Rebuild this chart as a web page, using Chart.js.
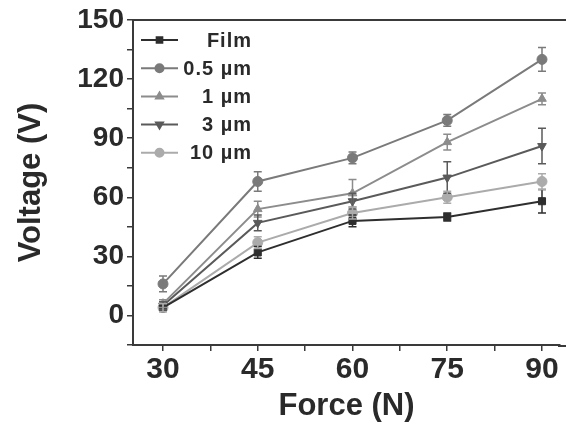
<!DOCTYPE html>
<html>
<head>
<meta charset="utf-8">
<script src="https://cdn.jsdelivr.net/npm/chart.js@4.4.1/dist/chart.umd.min.js"></script>
<style>
  html, body { margin: 0; padding: 0; background: #fff; overflow: hidden; }
  #wrap { width: 566px; height: 429px; }
</style>
</head>
<body>
<div id="wrap"><canvas id="chart" width="566" height="429"></canvas></div>
<script>
const forces = [30, 45, 60, 75, 90];
const labels = ["Film", "0.5 µm", "1 µm", "3 µm", "10 µm"];

const film = [4, 32, 48, 50, 58];
const um05 = [16, 68, 80, 99, 130];
const um1 = [6, 54, 62, 88, 110];
const um3 = [5, 47, 58, 70, 86];
const um10 = [4, 37, 52, 60, 68];

const filmErr = [2, 3, 3, 2, 6];
const um05Err = [4, 5, 3, 3, 6];
const um1Err = [2, 4, 7, 4, 3];
const um3Err = [2, 4, 4, 8, 9];
const um10Err = [2, 3, 3, 3, 4];

const yTicks = [0, 30, 60, 90, 120, 150];
const xTicks = [30, 45, 60, 75, 90];

const axisColor = "#3a3a3a";
const font = "'Liberation Sans', Arial, sans-serif";

function series(i, vals, errs, color, style, rot) {
  return {
    label: labels[i],
    data: forces.map((f, k) => ({ x: f, y: vals[k] })),
    errors: errs,
    borderColor: color,
    backgroundColor: color,
    borderWidth: 2,
    pointStyle: style,
    pointRotation: rot || 0,
    pointRadius: 5,
    pointBorderWidth: 1,
    tension: 0
  };
}

// error bars + frame + legend
const extras = {
  id: "extras",
  afterDatasetsDraw(chart) {
    const ctx = chart.ctx;
    const xs = chart.scales.x, ys = chart.scales.y;
    chart.data.datasets.forEach(ds => {
      ctx.save();
      ctx.strokeStyle = ds.borderColor;
      ctx.lineWidth = 1.5;
      ds.data.forEach((p, k) => {
        const e = ds.errors[k];
        const px = xs.getPixelForValue(p.x);
        const top = ys.getPixelForValue(p.y + e);
        const bot = ys.getPixelForValue(p.y - e);
        ctx.beginPath();
        ctx.moveTo(px, top); ctx.lineTo(px, bot);
        ctx.moveTo(px - 4, top); ctx.lineTo(px + 4, top);
        ctx.moveTo(px - 4, bot); ctx.lineTo(px + 4, bot);
        ctx.stroke();
      });
      ctx.restore();
    });
  },
  afterDraw(chart) {
    const ctx = chart.ctx;
    const a = chart.chartArea;
    ctx.save();
    ctx.strokeStyle = axisColor;
    ctx.lineWidth = 2;
    ctx.beginPath();
    // top frame line and the bottom axis running off the right edge
    ctx.moveTo(a.left, a.top);
    ctx.lineTo(chart.width, a.top);
    ctx.moveTo(a.right - 2, a.bottom + 1);
    ctx.lineTo(chart.width, a.bottom + 1);
    ctx.stroke();

    // legend inside the plot
    const lx0 = 141, lx1 = 178, tx = 252;
    let y = 40;
    ctx.font = "bold 20px " + font;
    ctx.letterSpacing = "1px";
    ctx.textAlign = "right";
    ctx.textBaseline = "middle";
    chart.data.datasets.forEach(ds => {
      ctx.strokeStyle = ds.borderColor;
      ctx.lineWidth = 2;
      ctx.beginPath();
      ctx.moveTo(lx0, y); ctx.lineTo(lx1, y);
      ctx.stroke();
      ctx.fillStyle = ds.backgroundColor;
      Chart.helpers.drawPoint(ctx, {
        pointStyle: ds.pointStyle, rotation: ds.pointRotation,
        radius: 4, borderWidth: 1
      }, (lx0 + lx1) / 2, y);
      ctx.fillStyle = "#2a2a2a";
      ctx.fillText(ds.label, tx, y + 1);
      y += 28.2;
    });
    ctx.restore();
  }
};

new Chart(document.getElementById("chart"), {
  type: "line",
  data: {
    datasets: [
      series(0, film, filmErr, "#2e2e2e", "rect"),
      series(1, um05, um05Err, "#7a7a7a", "circle"),
      series(2, um1, um1Err, "#8c8c8c", "triangle"),
      series(3, um3, um3Err, "#5a5a5a", "triangle", 180),
      series(4, um10, um10Err, "#ababab", "circle")
    ]
  },
  options: {
    responsive: false,
    animation: false,
    layout: { padding: { top: 20, right: 0, left: 9, bottom: 0 } },
    plugins: { legend: { display: false }, tooltip: { enabled: false } },
    scales: {
      x: {
        type: "linear",
        min: 25.25,
        max: 92.85,
        afterFit(s) { s.height = 84; },
        border: { color: axisColor, width: 2 },
        grid: { drawOnChartArea: false, tickLength: 6, color: axisColor, lineWidth: 1.5 },
        ticks: {
          stepSize: 7.5,
          includeBounds: false,
          autoSkip: false,
          color: "#2a2a2a",
          font: { family: font, size: 30, weight: "bold" },
          padding: 1,
          maxRotation: 0,
          callback: v => xTicks.includes(v) ? v : ""
        },
        title: {
          display: true, text: "Force (N)", color: "#2a2a2a",
          font: { family: font, size: 31, weight: "bold" }, padding: { top: 0 }
        }
      },
      y: {
        min: -15,
        max: 150,
        afterFit(s) { s.width = 124; },
        border: { color: axisColor, width: 2 },
        grid: { drawOnChartArea: false, tickLength: 6, color: axisColor, lineWidth: 1.5 },
        ticks: {
          stepSize: 15,
          autoSkip: false,
          color: "#2a2a2a",
          font: { family: font, size: 28, weight: "bold" },
          padding: 3,
          callback: v => yTicks.includes(v) ? v : ""
        },
        title: {
          display: true, text: "Voltage (V)", color: "#2a2a2a",
          font: { family: font, size: 31, weight: "bold" }, padding: { bottom: 4 }
        }
      }
    }
  },
  plugins: [extras]
});
</script>
</body>
</html>
